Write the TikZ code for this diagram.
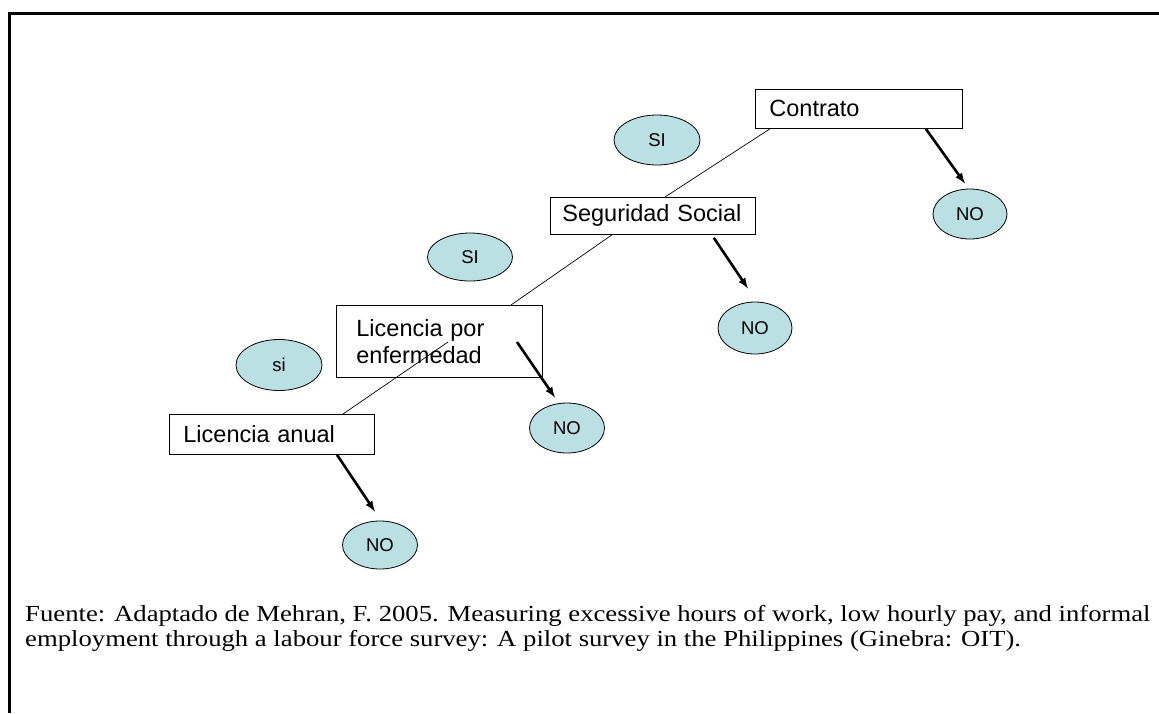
\documentclass[tikz,border=0pt]{standalone}
\usepackage{fontspec}
\setmainfont{Liberation Serif}
\newfontfamily\arialfont{Liberation Sans}
\usetikzlibrary{shapes.geometric}
\definecolor{ovalfill}{RGB}{187,224,227}
\begin{document}
\begin{tikzpicture}[x=1pt,y=-1pt,>=latex,
		caja/.style={draw,line width=0.8pt,anchor=north west,inner xsep=14pt,inner ysep=0pt,align=left,font=\arialfont\fontsize{23.5}{27}\selectfont},
		ovalo/.style={draw,ellipse,fill=ovalfill,line width=0.8pt,inner sep=0pt,font=\arialfont\fontsize{18.5}{20}\selectfont},
		rama/.style={line width=0.7pt},
		flecha/.style={->,line width=2.6pt}]
	\useasboundingbox (0,0) rectangle (1159,713);
	\draw[line width=3pt] (9,713) -- (9,13) -- (1159,13);
	% cajas
	\node[caja,text width=179pt,minimum height=39pt] (contrato) at (755,89) {Contrato};
	\node[caja,inner xsep=12pt,text width=181pt,minimum height=37pt] (seguridad) at (550,197) {\mbox{Seguridad Social}};
	\node[caja,inner xsep=20pt,text width=166pt,minimum height=72pt] (enfermedad) at (336,305) {Licencia por\\enfermedad};
	\node[caja,text width=177pt,minimum height=40pt] (anual) at (169,414) {Licencia anual};
	% ovalos
	\node[ovalo,minimum width=86pt,minimum height=50pt] (siA) at (657,140) {SI};
	\node[ovalo,minimum width=74pt,minimum height=50pt] (noA) at (970,214) {NO};
	\node[ovalo,minimum width=85pt,minimum height=48pt] (siB) at (470,257) {SI};
	\node[ovalo,minimum width=74pt,minimum height=52pt] (noB) at (755,328) {NO};
	\node[ovalo,minimum width=86pt,minimum height=51pt] (siC) at (279,365) {si};
	\node[ovalo,minimum width=75pt,minimum height=50pt] (noC) at (567,428) {NO};
	\node[ovalo,minimum width=75pt,minimum height=48pt] (noD) at (380,545) {NO};
	% ramas
	\draw[rama] ([xshift=15pt]contrato.south west) -- ([xshift=115pt]seguridad.north west);
	\draw[rama] ([xshift=62pt]seguridad.south west) -- ([xshift=175pt]enfermedad.north west);
	\draw[rama] ([shift={(112,37)}]enfermedad.north west) -- ([xshift=174pt]anual.north west);
	\draw[flecha] ([xshift=-37pt]contrato.south east) -- ([shift={(-5,-5)}]noA.north);
	\draw[flecha] ([shift={(-42,3)}]seguridad.south east) -- ([shift={(-7,-13)}]noB.north);
	\draw[flecha] ([shift={(181,37)}]enfermedad.north west) -- ([shift={(-12,-5)}]noC.north);
	\draw[flecha] ([xshift=168pt]anual.south west) -- ([shift={(-5,-9)}]noD.north);
	% fuente
	\node[anchor=base west,align=left,inner sep=0pt,xscale=1.16,transform shape,font=\fontsize{23}{25}\selectfont] (fuente) at (25,646)
		{Fuente: Adaptado de Mehran, F. 2005. Measuring excessive hours of work, low hourly pay, and informal\\
		employment through a labour force survey: A pilot survey in the Philippines (Ginebra: OIT).};
\end{tikzpicture}
\end{document}
